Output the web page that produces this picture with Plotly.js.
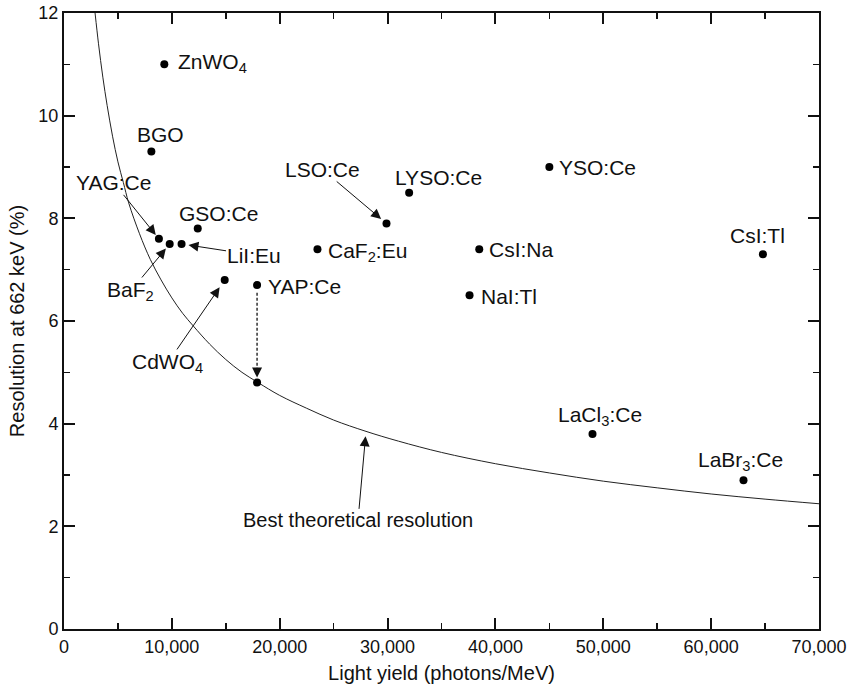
<!DOCTYPE html>
<html>
<head>
<meta charset="utf-8">
<script src="https://cdn.plot.ly/plotly-3.0.1.min.js"></script>
<style>html,body{margin:0;padding:0;background:#fff}#chart{width:856px;height:692px}</style>
</head>
<body>
<div id="chart"></div>
<script>
// ---- data ----
const crystals = ["ZnWO<sub>4</sub>","BGO","YAG:Ce","BaF<sub>2</sub>","LiI:Eu","GSO:Ce","CdWO<sub>4</sub>","YAP:Ce","CaF<sub>2</sub>:Eu","LSO:Ce","LYSO:Ce","NaI:Tl","CsI:Na","YSO:Ce","LaCl<sub>3</sub>:Ce","LaBr<sub>3</sub>:Ce","CsI:Tl"];
const lightYield = [9300, 8100, 8800, 9800, 10900, 12400, 14900, 17900, 23500, 29900, 32000, 37600, 38500, 45000, 49000, 63000, 64800];
const resolution = [11.0, 9.3, 7.6, 7.5, 7.5, 7.8, 6.8, 6.7, 7.4, 7.9, 8.5, 6.5, 7.4, 9.0, 3.8, 2.9, 7.3];

const yapBestYield = [17900];
const yapBestRes = [4.8];

const curveYield = [2880, 3200, 3600, 4000, 4500, 5000, 5500, 6000, 7000, 8000, 9000, 10000, 11000, 12000, 13500, 15000, 16500, 18000, 20000, 22500, 25000, 28000, 31000, 35000, 40000, 45000, 50000, 55000, 60000, 65000, 70000];
const curveRes   = [12.0, 11.4, 10.75, 10.2, 9.6, 9.1, 8.7, 8.3, 7.7, 7.2, 6.8, 6.45, 6.15, 5.9, 5.55, 5.25, 5.0, 4.8, 4.55, 4.3, 4.07, 3.85, 3.66, 3.44, 3.22, 3.04, 2.88, 2.75, 2.63, 2.53, 2.44];

const xTickVals = [0, 10000, 20000, 30000, 40000, 50000, 60000, 70000];
const yTickVals = [0, 2, 4, 6, 8, 10, 12];
const curveLabel = "Best theoretical resolution";
const xTitle = "Light yield (photons/MeV)";
const yTitle = "Resolution at 662 keV (%)";

// ---- label placement (pixel offsets of label centre/edge from each point) ----
const labelStyle = {
  "ZnWO<sub>4</sub>": {xanchor:"left", dx:12, dy:-1},
  "BGO": {xanchor:"center", dx:9, dy:-17},
  "GSO:Ce": {xanchor:"center", dx:21, dy:-15},
  "YAP:Ce": {xanchor:"left", dx:9, dy:1},
  "CaF<sub>2</sub>:Eu": {xanchor:"left", dx:9, dy:3},
  "LYSO:Ce": {xanchor:"center", dx:29, dy:-15},
  "NaI:Tl": {xanchor:"left", dx:9, dy:1},
  "CsI:Na": {xanchor:"left", dx:8, dy:0},
  "YSO:Ce": {xanchor:"left", dx:8, dy:0},
  "LaCl<sub>3</sub>:Ce": {xanchor:"center", dx:7, dy:-18},
  "LaBr<sub>3</sub>:Ce": {xanchor:"center", dx:-3, dy:-19},
  "CsI:Tl": {xanchor:"center", dx:-5, dy:-19}
};
// labels joined to their point by an arrow: label centre offset in px
const arrowStyle = {
  "YAG:Ce": {ax:-45, ay:-56, standoff:5},
  "BaF<sub>2</sub>": {ax:-39, ay:47, standoff:6},
  "LiI:Eu": {ax:72, ay:11, standoff:7},
  "CdWO<sub>4</sub>": {ax:-57, ay:83, standoff:9},
  "LSO:Ce": {ax:-64, ay:-54, standoff:7}
};

const FONT = "Liberation Sans, Arial, Helvetica, sans-serif";
const LABEL_FONT = {family:FONT, size:21, color:"#111"};
const ARROW = {arrowhead:2, arrowsize:2, arrowwidth:1, arrowcolor:"#111"};

const annotations = [];
crystals.forEach((name, i) => {
  const a = arrowStyle[name];
  if (a) {
    annotations.push(Object.assign({
      x: lightYield[i], y: resolution[i], xref:"x", yref:"y",
      text: name, showarrow:true, axref:"pixel", ayref:"pixel", ax:a.ax, ay:a.ay,
      standoff:a.standoff, borderpad:0, font:LABEL_FONT
    }, ARROW));
  } else {
    const s = labelStyle[name];
    annotations.push({
      x: lightYield[i], y: resolution[i], xref:"x", yref:"y",
      text: name, showarrow:false, xanchor:s.xanchor, yanchor:"middle",
      xshift:s.dx, yshift:-s.dy, font:LABEL_FONT
    });
  }
});
// YAP:Ce dashed arrow head (the dashed stem is a shape below)
annotations.push(Object.assign({
  x: yapBestYield[0], y: yapBestRes[0], xref:"x", yref:"y", text:"",
  showarrow:true, ax:0, ay:-14, standoff:5
}, ARROW));
// Best theoretical resolution label with arrow to the curve
const ci = curveYield.indexOf(28000);
annotations.push(Object.assign({
  x: curveYield[ci], y: curveRes[ci], xref:"x", yref:"y", text: curveLabel,
  showarrow:true, ax:-8, ay:89, standoff:5, borderpad:0,
  font:{family:FONT, size:20, color:"#111"}
}, ARROW));

const traces = [
  {x: curveYield, y: curveRes, mode:"lines", line:{color:"#222", width:1, shape:"spline"}, hoverinfo:"skip"},
  {x: lightYield, y: resolution, mode:"markers", marker:{color:"#000", size:8}, cliponaxis:false},
  {x: yapBestYield, y: yapBestRes, mode:"markers", marker:{color:"#000", size:8}, cliponaxis:false}
];

const axisCommon = {
  showgrid:false, zeroline:false, showline:true, linecolor:"#111", linewidth:2,
  mirror:"ticks", ticks:"inside", ticklen:11, tickwidth:2, tickcolor:"#111",
  tickfont:{family:FONT, size:18, color:"#111"}
};

const yapIdx = crystals.indexOf("YAP:Ce");
const layout = {
  width:856, height:692,
  margin:{l:64, r:37, t:13, b:63},
  paper_bgcolor:"#fff", plot_bgcolor:"#fff",
  showlegend:false,
  xaxis: Object.assign({}, axisCommon, {
    range:[0, 70000], tickvals:xTickVals, tickformat:",d",
    minor:{dtick:5000, tick0:0, ticks:"inside", ticklen:6, tickwidth:1.5, tickcolor:"#111"},
    title:{text:xTitle, font:{family:FONT, size:20, color:"#111"}, standoff:10}
  }),
  yaxis: Object.assign({}, axisCommon, {
    range:[0, 12], tickvals:yTickVals,
    minor:{dtick:1, tick0:0, ticks:"inside", ticklen:6, tickwidth:1.5, tickcolor:"#111"},
    title:{text:yTitle, font:{family:FONT, size:20, color:"#111"}, standoff:8}
  }),
  shapes:[{
    type:"line", xref:"x", yref:"y",
    x0: lightYield[yapIdx], x1: yapBestYield[0],
    y0: resolution[yapIdx] - 0.15, y1: yapBestRes[0] + 0.25,
    line:{color:"#111", width:1.3, dash:"3px,2px"}
  }],
  annotations: annotations
};

Plotly.newPlot("chart", traces, layout, {displayModeBar:false, staticPlot:true});
</script>
</body>
</html>
